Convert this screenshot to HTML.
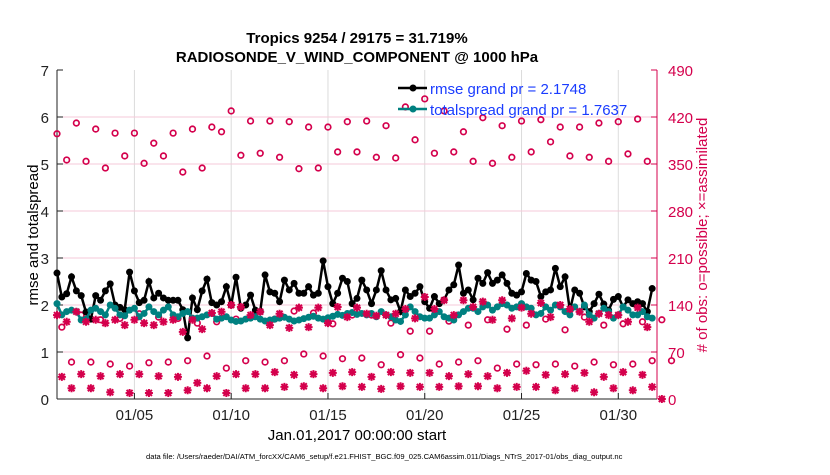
<!DOCTYPE html>
<html><head><meta charset="utf-8"><style>
body{margin:0;background:#fff;}
svg text{font-family:"Liberation Sans",sans-serif;}
</style></head><body>
<svg id="chart" width="830" height="470" viewBox="0 0 830 470" xmlns="http://www.w3.org/2000/svg">
<text x="357" y="43" text-anchor="middle" font-size="15" font-weight="bold">Tropics 9254 / 29175 = 31.719%</text>
<text x="357" y="62" text-anchor="middle" font-size="15" font-weight="bold">RADIOSONDE_V_WIND_COMPONENT @ 1000 hPa</text>
<g id="grid"></g>
<g id="axes"></g>
<g id="marks"></g>
<text transform="translate(38,235) rotate(-90)" text-anchor="middle" font-size="15">rmse and totalspread</text>
<text transform="translate(707,235) rotate(-90)" text-anchor="middle" font-size="15" fill="#d4004c"># of obs: o=possible; ×=assimilated</text>
<text x="357" y="440" text-anchor="middle" font-size="15">Jan.01,2017 00:00:00 start</text>
<text x="146" y="459" font-size="7.6">data file: /Users/raeder/DAI/ATM_forcXX/CAM6_setup/f.e21.FHIST_BGC.f09_025.CAM6assim.011/Diags_NTrS_2017-01/obs_diag_output.nc</text>
<g>
<line x1="398" y1="88" x2="427" y2="88" stroke="#000" stroke-width="2.5"/>
<circle cx="413" cy="88" r="3.5" fill="#000"/>
<text x="430" y="94" font-size="15" fill="#1a3cff">rmse grand pr = 2.1748</text>
<line x1="398" y1="109" x2="427" y2="109" stroke="#008080" stroke-width="2.5"/>
<circle cx="413" cy="109" r="3.5" fill="#008080"/>
<text x="430" y="115" font-size="15" fill="#1a3cff">totalspread grand pr = 1.7637</text>
</g>
</svg>
<script>
const xTickDays=[5,10,15,20,25,30];
const xTickLabels=["01/05","01/10","01/15","01/20","01/25","01/30"];
const yTicks=[0,1,2,3,4,5,6,7];
const rTicks=[0,70,140,210,280,350,420,490];
const rmseStart=1.0, rmseStep=0.25;
const rmse=[2.68,2.17,2.24,2.6,2.3,2.2,1.85,1.7,2.2,2.1,2.3,2.45,2.0,1.95,1.9,2.7,2.3,2.05,2.1,2.5,2.15,2.25,2.15,2.1,2.1,2.1,1.9,1.3,2.15,1.9,2.3,2.55,2.05,
2.0,2.07,2.39,2.0,2.59,1.93,2.0,2.21,1.89,1.86,2.64,2.28,2.25,2.07,2.53,2.32,2.46,2.25,2.25,2.39,2.21,2.25,2.94,2.39,2.03,2.25,2.57,2.5,2.03,2.14,2.53,2.32,
2.03,2.32,2.73,2.32,2.11,2.14,1.86,2.32,2.18,2.25,2.39,2.07,1.93,2.18,2.03,2.11,2.32,2.43,2.85,2.25,2.32,2.11,2.57,2.46,2.69,2.46,2.53,2.64,2.46,2.25,2.21,2.28,2.67,
2.53,2.5,2.18,2.28,2.32,2.78,2.39,2.6,1.89,2.32,2.25,1.96,1.86,2.03,2.23,2.02,1.89,2.12,2.18,1.96,2.11,2.03,2.07,2.03,1.86,2.35];
const spread=[2.03,1.79,1.86,1.89,1.86,1.68,1.70,1.89,1.93,1.86,1.79,2.0,1.93,1.79,1.77,1.89,1.93,1.75,1.82,1.96,1.86,1.79,1.89,1.96,1.79,1.75,1.82,1.86,1.72,1.72,1.75,1.79,1.82,
1.70,1.72,1.75,1.68,1.65,1.66,1.70,1.72,1.75,1.70,1.66,1.68,1.70,1.72,1.74,1.70,1.66,1.68,1.71,1.74,1.76,1.72,1.70,1.73,1.76,1.80,1.78,1.82,1.84,1.80,1.82,
1.79,1.82,1.75,1.86,1.79,1.75,1.68,1.65,1.79,1.96,1.86,1.75,1.72,1.72,1.79,1.86,1.75,1.72,1.68,1.79,1.86,1.93,1.93,1.86,1.96,2.0,1.89,1.96,2.03,2.0,1.93,1.96,2.03,
1.96,1.93,1.79,1.82,1.96,1.89,2.0,1.96,1.86,1.79,1.96,1.86,2.0,1.79,1.72,1.82,1.93,1.86,1.72,1.79,1.96,1.89,1.79,1.79,1.86,1.75,1.72];
const possUpperStart=1.0, possUpperStep=0.5;
const possUpper=[395,356,411,354,402,344,396,362,396,351,381,362,396,338,402,344,405,398,429,363,414,366,414,360,413,343,405,344,405,368,413,
368,414,360,407,359,435,386,447,366,429,368,398,354,419,351,407,360,414,368,416,383,405,362,405,360,411,354,413,365,417,354];
const possMidStart=1.25, possMidStep=1;
const possMid=[107,125,118,120,127,122,120,113,115,119,128,119,131,128,112,125,125,113,101,101,116,110,118,104,110,119,103,122,110,112,115,118];
const possLowStart=1.75, possLowStep=1;
const possLow=[55,55,52,49,54,55,57,64,46,57,55,57,67,64,60,61,51,66,61,52,55,57,46,52,51,52,49,55,51,52,57,57];
const assimMidStart=1.0, assimMidStep=0.5;
const assimMid=[125,115,130,115,118,113,118,110,118,113,110,115,118,100,118,104,128,
130,140,137,125,130,110,127,106,136,107,136,113,137,122,136,127,124,
125,127,134,120,152,134,147,125,147,137,145,118,147,120,136,127,143,
122,140,134,130,115,127,125,125,115,136,107];
const assimLowStart=1.25, assimLowStep=0.5;
const assimLow=[33,16,37,16,34,10,37,9,37,9,34,9,33,13,24,16,
34,9,37,16,37,16,40,18,36,19,37,16,39,19,40,18,
33,15,40,19,39,18,39,18,34,19,37,19,34,16,39,18,
42,18,36,13,37,16,39,10,33,16,40,13,36,18,0];

const L=57,R=657,T=70,B=399, D0=1, D1=32;
const MAG="#d4004c", TEAL="#008080";
const X=t=>L+(t-D0)/(D1-D0)*(R-L);
const Y=v=>B-v/7*(B-T);
const YR=v=>B-v/490*(B-T);
const NS="http://www.w3.org/2000/svg";
function mk(tag,attrs,parent,text){const e=document.createElementNS(NS,tag);for(const k in attrs)e.setAttribute(k,attrs[k]);if(text!==undefined)e.textContent=text;parent.appendChild(e);return e;}
const grid=document.getElementById('grid'),axes=document.getElementById('axes'),marks=document.getElementById('marks');

xTickDays.forEach((d,i)=>{
  const g=mk('line',{x1:X(d),x2:X(d),y1:T,y2:B,stroke:"#dcdcdc","stroke-width":1},grid);
  
  
  const tk=mk('line',{x1:X(d),x2:X(d),y1:B,y2:B-6,stroke:"#222"},axes);
  
  
  const lb=mk('text',{x:X(d),y:B+21,"text-anchor":"middle","font-size":15,fill:"#222"},axes,xTickLabels[i]);
  
  
});
rTicks.forEach(v=>{
  if(v>0&&v<490){const g=mk('line',{x1:L,x2:R,y1:YR(v),y2:YR(v),stroke:"#f5c9d8","stroke-width":1},grid);
  
  }
  const tk=mk('line',{x1:R,x2:R-6,y1:YR(v),y2:YR(v),stroke:MAG},axes);
  
  
  const lb=mk('text',{x:R+11,y:YR(v)+6,"font-size":15,fill:MAG},axes,String(v));
  
  
});
yTicks.forEach(v=>{
  const tk=mk('line',{x1:L,x2:L+6,y1:Y(v),y2:Y(v),stroke:"#222"},axes);
  
  
  const lb=mk('text',{x:L-8,y:Y(v)+6,"text-anchor":"end","font-size":15,fill:"#222"},axes,String(v));
  
  
});
const la=mk('line',{x1:L,x2:L,y1:T,y2:B,stroke:"#222"},axes);


const ba=mk('line',{x1:L,x2:R,y1:B,y2:B,stroke:"#222"},axes);


const ra=mk('line',{x1:R,x2:R,y1:T,y2:B,stroke:MAG},axes);



function circles(arr,start,step,name){
  arr.forEach((v,i)=>{
    const c=mk('circle',{cx:X(start+i*step),cy:YR(v),r:2.8,fill:"none",stroke:MAG,"stroke-width":1.7},marks);
    
    
  });
}
function stars(arr,start,step,name){
  arr.forEach((v,i)=>{
    const x=X(start+i*step),y=YR(v),s=4;
    const d=`M${x-s},${y}H${x+s}M${x},${y-s}V${y+s}M${x-3},${y-3}L${x+3},${y+3}M${x-3},${y+3}L${x+3},${y-3}`;
    const p=mk('path',{d:d,stroke:MAG,"stroke-width":2,fill:"none"},marks);
    
    
  });
}
circles(possUpper,possUpperStart,possUpperStep,'possible-obs-marker');
circles(possMid,possMidStart,possMidStep,'possible-obs-marker');
circles(possLow,possLowStart,possLowStep,'possible-obs-marker');
stars(assimLow,assimLowStart,assimLowStep,'assimilated-obs-marker');

function series(arr,color,name){
  const pts=arr.map((v,i)=>X(rmseStart+i*rmseStep).toFixed(1)+","+Y(v).toFixed(1)).join(" ");
  const pl=mk('polyline',{points:pts,fill:"none",stroke:color,"stroke-width":2.5},marks);
  
  
  arr.forEach((v,i)=>{
    const c=mk('circle',{cx:X(rmseStart+i*rmseStep),cy:Y(v),r:3.5,fill:color},marks);
    
    
  });
}
series(rmse,"#000",'rmse');
series(spread,TEAL,'totalspread');
stars(assimMid,assimMidStart,assimMidStep,'assimilated-obs-marker');
</script>
</body></html>
